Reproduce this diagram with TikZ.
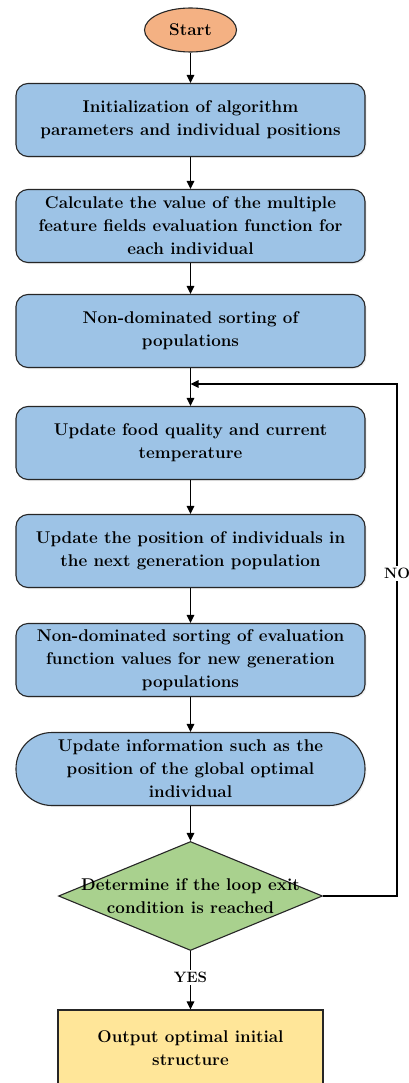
\documentclass[tikz,border=0pt]{standalone}
\usetikzlibrary{positioning,shapes.geometric,arrows.meta,shadows}
\definecolor{boxblue}{RGB}{157,195,230}
\definecolor{startorange}{RGB}{244,177,131}
\definecolor{checkgreen}{RGB}{169,209,142}
\definecolor{outyellow}{RGB}{255,230,153}

\begin{document}
\begin{tikzpicture}[x=1pt,y=-1pt,
					% Style for the process boxes
					stepbox/.style={
						draw=black!85,
						fill=boxblue,
						line width=1.1pt,
						minimum width=349pt,
						minimum height=73pt,
						rounded corners=12pt,
						align=center,
						inner sep=2pt,
						font=\bfseries\fontsize{17}{23}\selectfont,
						drop shadow={opacity=0.12, shadow xshift=1.5pt, shadow yshift=-1.5pt}
					},
					startnode/.style={
						ellipse, draw=black!85, fill=startorange, line width=1.1pt,
						minimum width=92pt, minimum height=44pt, inner sep=0pt,
						font=\bfseries\fontsize{17}{20}\selectfont
					},
					checknode/.style={
						diamond, draw=black!85, fill=checkgreen, line width=1.1pt,
						minimum width=264pt, minimum height=109pt, inner sep=0pt
					},
					outbox/.style={
						draw=black!85, fill=outyellow, line width=1.1pt,
						minimum width=265pt, minimum height=76pt, align=center,
						font=\bfseries\fontsize{17}{23}\selectfont
					},
					txt/.style={align=center, font=\bfseries\fontsize{17}{23}\selectfont},
					lbl/.style={fill=white, inner sep=2pt, font=\bfseries\fontsize{15}{17}\selectfont},
					flow/.style={-{Triangle[length=8pt,width=7.5pt]}, line width=1.3pt}
					]
					\useasboundingbox (0,0) rectangle (408,1083);
					
					% Start and the main steps
					\node[startnode] (start) at (190.5,30) {Start};
					\node[stepbox] (init) at (190.5,120) {Initialization of algorithm\\parameters and individual positions};
					\node[stepbox] (eval) at (190.5,226) {Calculate the value of the multiple\\feature fields evaluation function for\\each individual};
					\node[stepbox] (sort) at (190.5,331) {Non-dominated sorting of\\populations};
					\node[stepbox] (food) at (190.5,443) {Update food quality and current\\temperature};
					\node[stepbox] (pos) at (190.5,551) {Update the position of individuals in\\the next generation population};
					\node[stepbox] (resort) at (190.5,660) {Non-dominated sorting of evaluation\\function values for new generation\\populations};
					\node[stepbox, rounded corners=36pt] (best) at (190.5,769) {Update information such as the\\position of the global optimal\\individual};
					
					% Decision and output
					\node[checknode] (check) at (190.5,896) {};
					\node[txt] (checktxt) at (check.center) {Determine if the loop exit\\condition is reached};
					\node[outbox] (out) at (190.5,1048) {Output optimal initial\\structure};
					
					% Connectors
					\coordinate (merge) at (190.5,384);
					\coordinate (right) at (397,896);
					\draw[flow] (start) -- (init);
					\draw[flow] (init) -- (eval);
					\draw[flow] (eval) -- (sort);
					\draw[flow] (sort) -- (food);
					\draw[flow] (food) -- (pos);
					\draw[flow] (pos) -- (resort);
					\draw[flow] (resort) -- (best);
					\draw[flow] (best) -- (check);
					\draw[flow] (check) -- node[lbl, pos=0.45] {YES} (out);
					\draw[flow] (check.east) -- (right) -- node[lbl, pos=0.63] {NO} (right |- merge) -- (merge);
				\end{tikzpicture}
\end{document}
